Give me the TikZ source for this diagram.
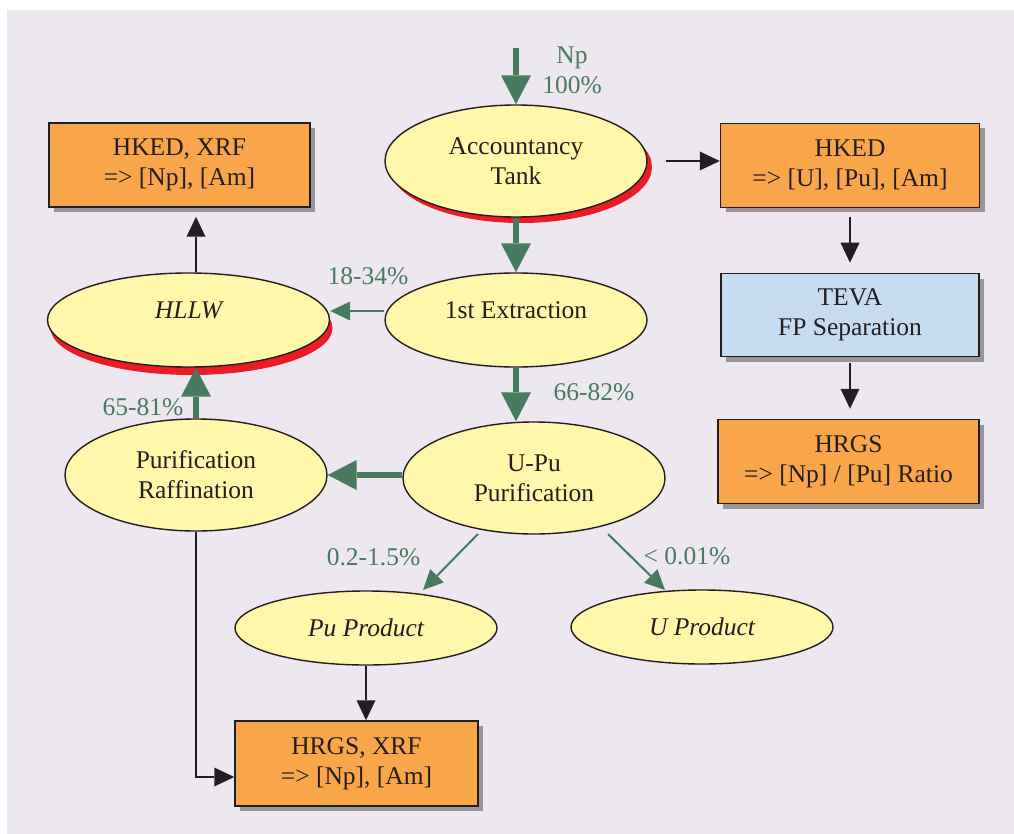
\documentclass[tikz,border=0pt]{standalone}
\usepackage{fontspec}
\setmainfont{Liberation Serif}
\usetikzlibrary{arrows.meta,shapes.geometric,shadows,calc}
\definecolor{bgcol}{HTML}{EDE7EF}
\definecolor{yelfill}{HTML}{FFF7AA}
\definecolor{orfill}{HTML}{F9A54A}
\definecolor{blfill}{HTML}{C6DBEF}
\definecolor{shgray}{HTML}{97979B}
\definecolor{redsh}{HTML}{ED1C24}
\definecolor{grn}{HTML}{487A60}
\definecolor{txtcol}{HTML}{231F20}
\begin{document}
\begin{tikzpicture}[x=1pt,y=-1pt,
  every node/.style={font=\fontsize{25.5}{30}\selectfont, text=txtcol},
  box/.style={draw=txtcol, line width=1.5pt, rectangle, align=center, inner sep=0pt,
    drop shadow={shadow xshift=5pt,shadow yshift=-5pt,fill=shgray,opacity=1}},
  orbox/.style={box, fill=orfill},
  blbox/.style={box, fill=blfill},
  ell/.style={draw=txtcol, line width=1.4pt, ellipse, fill=yelfill, align=center, inner sep=0pt,
    minimum width=262pt, minimum height=112pt},
  redshadow/.style 2 args={drop shadow={shadow xshift=#1,shadow yshift=#2,fill=redsh,opacity=1}},
  glab/.style={text=grn, inner sep=0pt},
  blk/.style={draw=txtcol, line width=1.4pt, -{Triangle[width=19pt,length=20pt,line width=0pt]}},
  gthick/.style={draw=grn, line width=6pt, -{Triangle[width=30pt,length=29pt,line width=0pt]}},
  gthin/.style={draw=grn, line width=2pt, -{Triangle[width=19pt,length=20pt,line width=0pt]}}]

\useasboundingbox (0,0) rectangle (1014,834);
\fill[white] (0,0) rectangle (1014,834);
\fill[bgcol] (7,10) rectangle (1014,834);

% boxes
\node[orbox, minimum width=261pt, minimum height=84pt] (boxL) at (179.5,165) {HKED, XRF\\=> [Np], [Am]};
\node[orbox, minimum width=259pt, minimum height=84pt] (boxR1) at (850,165.5) {HKED\\=> [U], [Pu], [Am]};
\node[blbox, minimum width=258pt, minimum height=83pt] (teva) at (850,315) {TEVA\\FP Separation};
\node[orbox, minimum width=261pt, minimum height=84pt] (hrgs) at (848.5,461.5) {HRGS\\=> [Np] / [Pu] Ratio};
\node[orbox, minimum width=243pt, minimum height=85pt] (boxB) at (356.5,763.5) {HRGS, XRF\\=> [Np], [Am]};

% ellipses
\node[ell, redshadow={5pt}{-6pt}] (acc) at (516,161) {Accountancy\\Tank};
\node[ell, minimum height=94pt, label={[yshift=10pt]center:1st Extraction}] (ext) at (516,320) {};
\node[ell, minimum width=282pt, minimum height=94pt, redshadow={3pt}{-8pt},
  label={[yshift=10pt,font=\fontsize{25.5}{30}\selectfont\itshape]center:HLLW}] (hllw) at (188.5,320) {};
\node[ell] (pur) at (196,475) {Purification\\Raffination};
\node[ell] (upu) at (534,478) {U-Pu\\Purification};
\node[ell, minimum height=74pt, font=\fontsize{25.5}{30}\selectfont\itshape] (pup) at (366,628) {Pu Product};
\node[ell, minimum height=74pt, font=\fontsize{25.5}{30}\selectfont\itshape] (up) at (702,627) {U Product};

% labels
\node[glab, align=center] (lnp) at (572,70) {Np\\100\%};
\node[glab, anchor=base] (l1834) at (368,284) {18-34\%};
\node[glab, anchor=base] (l6581) at (143,415) {65-81\%};
\node[glab, anchor=base] (l6682) at (594,400) {66-82\%};
\node[glab, anchor=base] (l0215) at (373.5,565) {0.2-1.5\%};
\node[glab, anchor=base] (l001) at (687,564) {< 0.01\%};

% connectors
\coordinate (npstart) at (516,48);
\draw[gthick] (npstart) -- (acc.north);
\draw[gthick] (acc.south) -- (ext.north);
\draw[gthick] (ext.south) -- (ext.south |- upu.north);
\draw[gthick] (pur.east -| upu.west) -- (pur.east);
\draw[gthick] (pur.north) -- (pur.north |- hllw.south);
\draw[gthin] ([yshift=9pt]ext.west) -- ([yshift=9pt]hllw.east);
\draw[gthin] ($(upu.center)+(-56,56)$) -- ($(pup.center)+(57,-38)$);
\draw[gthin] ($(upu.center)+(74,56)$) -- ($(up.center)+(-37,-37)$);

\draw[blk, shorten >=9pt] (hllw.north -| pur.north) -- (boxL.south -| pur.north);
\draw[blk] ([xshift=18pt]acc.east) -- (acc.east -| boxR1.west);
\draw[blk, shorten <=9pt, shorten >=10pt] (boxR1.south) -- (teva.north);
\draw[blk, shorten <=6pt, shorten >=10pt] (teva.south) -- (teva.south |- hrgs.north);
\draw[blk] (pup.south) -- (pup.south |- boxB.north);
\draw[blk] (pur.south) |- ([yshift=-13.5pt]boxB.west);
\end{tikzpicture}
\end{document}
